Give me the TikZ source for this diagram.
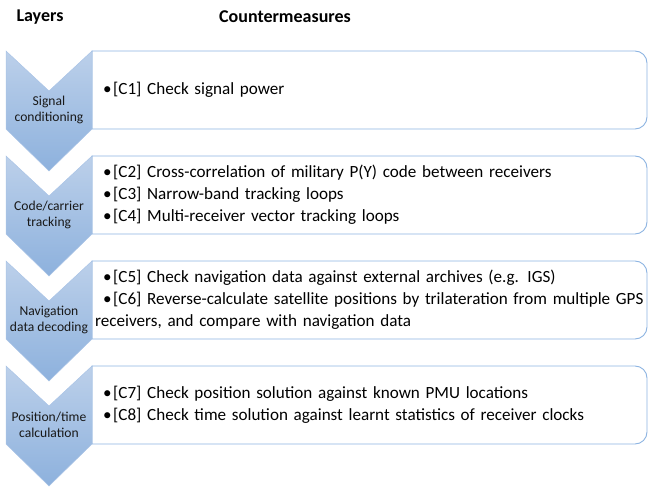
\documentclass[tikz,border=0pt]{standalone}
\usepackage{fontspec}
\setmainfont{Carlito}
\definecolor{boxline}{RGB}{141,180,226}
\definecolor{chevtop}{RGB}{188,208,234}
\definecolor{chevbot}{RGB}{141,177,221}
\definecolor{chevedge}{RGB}{170,196,230}
\begin{document}
\begin{tikzpicture}[x=1pt,y=-1pt,
  titletext/.style={font=\fontsize{18}{21}\selectfont\bfseries, inner sep=0pt},
  chevtext/.style={font=\fontsize{13.6}{15.5}\selectfont, align=center, inner sep=0pt, text=black!90},
  boxtext/.style={font=\fontsize{17.1}{22}\selectfont, align=left, inner sep=0pt, anchor=west, text width=600pt},
  boxshape/.style={draw=boxline, line width=0.9pt, fill=white},
  chevshape/.style={top color=chevtop, bottom color=chevbot, draw=chevedge, line width=0.5pt}
]
\useasboundingbox (0,0) rectangle (649,487);
% boxes
\foreach \t in {51,156,261,366}{
  \draw[boxshape] (92,\t) -- (635,\t) arc[start angle=90,end angle=0,x radius=12,y radius=-12] -- (647,\t+66)
     arc[start angle=0,end angle=-90,x radius=12,y radius=-12] -- (92,\t+78) -- cycle;
}
% chevrons
\foreach \t in {51,156,261,366}{
  \draw[chevshape] (6,\t) -- (49,\t+40) -- (92,\t) -- (92,\t+78) -- (49,\t+120) -- (6,\t+78) -- cycle;
}
\node[titletext] (layers) at (40,17) {Layers};
\node[titletext] (cm) at (285,17) {Countermeasures};

\node[chevtext] (l1) at (49,110) {Signal\\conditioning};
\node[chevtext] (l2) at (49,215) {Code/carrier\\tracking};
\node[chevtext] (l3) at (49,320) {Navigation\\data decoding};
\node[chevtext] (l4) at (49,425) {Position/time\\calculation};

\newcommand{\bul}{\hspace*{8pt}\makebox[10pt][l]{•}}
\node[boxtext] (b1) at (95,90) {\bul[C1] Check signal power};
\node[boxtext] (b2) at (95,195) {\bul[C2] Cross-correlation of military P(Y) code between receivers\\
\bul[C3] Narrow-band tracking loops\\
\bul[C4] Multi-receiver vector tracking loops};
\node[boxtext] (b3) at (95,300) {\bul[C5] Check navigation data against external archives (e.g. IGS)\\
\bul[C6] Reverse-calculate satellite positions by trilateration from multiple GPS\\
receivers, and compare with navigation data};
\node[boxtext] (b4) at (95,405) {\bul[C7] Check position solution against known PMU locations\\
\bul[C8] Check time solution against learnt statistics of receiver clocks};
\end{tikzpicture}
\end{document}
